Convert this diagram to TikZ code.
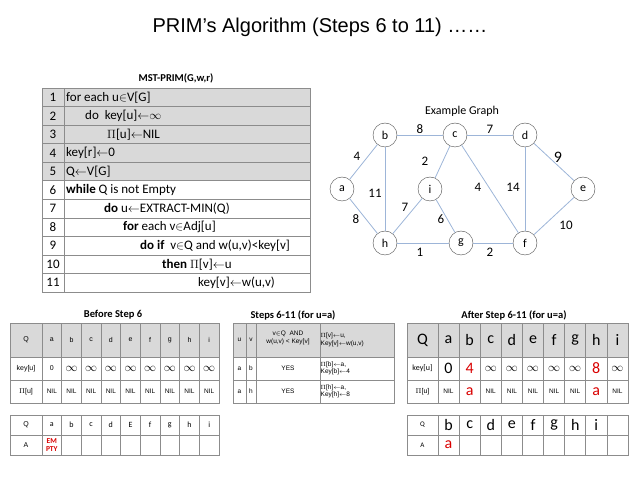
\documentclass[tikz,border=0pt]{standalone}
\usepackage{fontspec}
\setmainfont{Carlito}
\newfontfamily\arial{Liberation Sans}
\definecolor{edgeblue}{HTML}{9DB5D8}
\begin{document}
\begin{tikzpicture}[x=1pt,y=-1pt,
  cell/.style={draw=black!45,line width=0.6pt},
  gcell/.style={draw=black!45,line width=0.6pt,fill=black!15},
  vtx/.style={circle,draw=black!70,fill=white,minimum size=24pt,inner sep=0pt,font=\fontsize{12}{12}\selectfont},
  edge/.style={draw=edgeblue,line width=0.8pt},
  wl/.style={font=\fontsize{13}{13}\selectfont},
  hd/.style={font=\bfseries\fontsize{10.5}{10.5}\selectfont},
  inf/.style={font=\fontsize{12}{12}\selectfont},
  red/.style={text=red!85!black}]
\useasboundingbox (0,0) rectangle (638,478);
\node[font=\arial\fontsize{20}{20}\selectfont] (title) at (320,27) {PRIM’s Algorithm (Steps 6 to 11) ……};
% algorithm
\node[hd] (algh) at (176,78) {MST-PRIM(G,w,r)};
\def\rh{18.55}
\foreach \i/\t/\xx in {1/{for each u\(\in\)V[G]}/66,2/{do\ \ key[u]\(\leftarrow\)\(\infty\)}/85,3/{\(\Pi\)[u]\(\leftarrow\)NIL}/107,4/{key[r]\(\leftarrow\)0}/66,5/{Q\(\leftarrow\)V[G]}/66,6/{\textbf{while} Q is not Empty}/66,7/{\textbf{do} u\(\leftarrow\)EXTRACT-MIN(Q)}/104,8/{\textbf{for} each v\(\in\)Adj[u]}/123,9/{\textbf{do if}\ \ v\(\in\)Q and w(u,v)<key[v]}/140,10/{\textbf{then} \(\Pi\)[v]\(\leftarrow\)u}/162,11/{key[v]\(\leftarrow\)w(u,v)}/198}{
  \pgfmathsetmacro\ya{88+(\i-1)*\rh}
  \pgfmathsetmacro\yb{88+\i*\rh}
  \ifnum\i<6 \def\st{gcell}\else\def\st{cell}\fi
  \draw[\st] (42,\ya) rectangle (64,\yb);
  \draw[\st] (64,\ya) rectangle (310,\yb);
  \node[font=\fontsize{13}{13}\selectfont] (n\i) at (53,{(\ya+\yb)/2}) {\i};
  \node[font=\fontsize{13}{13}\selectfont,anchor=west,inner sep=0pt] (t\i) at (\xx,{(\ya+\yb)/2}) {\t};
}
% graph
\node[font=\fontsize{12}{12}\selectfont] (eg) at (462,111) {Example Graph};
\node[vtx] (a) at (342,189) {a};
\node[vtx] (b) at (385,135) {b};
\node[vtx] (c) at (455,135) {c};
\node[vtx] (d) at (525,135) {d};
\node[vtx] (e) at (583,189) {e};
\node[vtx] (i) at (430,189) {i};
\node[vtx] (h) at (385,243) {h};
\node[vtx] (g) at (461,243) {g};
\node[vtx] (f) at (525,243) {f};
\foreach \u/\v in {a/b,b/c,c/d,d/e,a/h,b/h,c/i,c/f,d/f,e/f,h/i,i/g,h/g,g/f}{\draw[edge] (\u) -- (\v);}
\node[wl] (w1) at (357,156) {4};
\node[wl] (w2) at (420,129) {8};
\node[wl] (w3) at (490,129) {7};
\node[font=\fontsize{16}{16}\selectfont] (w4) at (558,157) {9};
\node[wl] (w5) at (425,161) {2};
\node[wl] (w6) at (375,193) {11};
\node[wl] (w7) at (478,187) {4};
\node[wl] (w8) at (513,187) {14};
\node[wl] (w9) at (405,207) {7};
\node[wl] (w10) at (441,219) {6};
\node[wl] (w11) at (356,219) {8};
\node[wl] (w12) at (420,252) {1};
\node[wl] (w13) at (490,252) {2};
\node[wl] (w14) at (566,225) {10};
% Before step 6
\node[hd] (h1) at (113,315) {Before Step 6};
\def\cw{19.67}
\draw[gcell] (10,323) rectangle (42,357);
\draw[cell] (10,357) rectangle (42,380);
\draw[cell] (10,380) rectangle (42,403);
\node[font=\arial\fontsize{7}{7}\selectfont] (q1) at (26,340) {Q};
\node[font=\arial\fontsize{7}{7}\selectfont] (k1) at (26,368.5) {key[u]};
\node[font=\arial\fontsize{7}{7}\selectfont] (p1) at (26,391.5) {\(\Pi\)[u]};
\draw[cell] (10,415) rectangle (42,435);
\draw[cell] (10,435) rectangle (42,455);
\node[font=\arial\fontsize{7}{7}\selectfont] (q1b) at (26,425) {Q};
\node[font=\arial\fontsize{7}{7}\selectfont] (a1b) at (26,445) {A};
\foreach \j/\l/\m in {1/a/a,2/b/b,3/c/c,4/d/d,5/e/E,6/f/f,7/g/g,8/h/h,9/i/i}{
  \pgfmathsetmacro\xa{42+(\j-1)*\cw}
  \pgfmathsetmacro\xb{42+\j*\cw}
  \pgfmathsetmacro\xm{42+(\j-0.5)*\cw}
  \draw[gcell] (\xa,323) rectangle (\xb,357);
  \draw[cell] (\xa,357) rectangle (\xb,380);
  \draw[cell] (\xa,380) rectangle (\xb,403);
  \draw[cell] (\xa,415) rectangle (\xb,435);
  \draw[cell] (\xa,435) rectangle (\xb,455);
  \node[font=\arial\fontsize{7}{7}\selectfont] (bq\j) at (\xm,340) {\l};
  \ifnum\j=1 \node[font=\arial\fontsize{7}{7}\selectfont] (bk\j) at (\xm,368.5) {0};
  \else \node[inf] (bk\j) at (\xm,368.5) {\(\infty\)};\fi
  \node[font=\arial\fontsize{6.5}{6.5}\selectfont] (bp\j) at (\xm,391.5) {NIL};
  \node[font=\fontsize{8}{8}\selectfont] (bQ\j) at (\xm,425) {\m};
}
\node[font=\bfseries\fontsize{7.5}{8}\selectfont,red,align=center,inner sep=0pt] (empty) at (51.8,445) {EM\\PTY};
% Steps 6-11
\node[hd] (h2) at (293,315) {Steps 6-11 (for u=a)};
\foreach \ya/\yb/\st in {323/357/gcell,357/380/cell,380/403/cell}{
  \draw[\st] (233,\ya) rectangle (246,\yb);
  \draw[\st] (246,\ya) rectangle (256,\yb);
  \draw[\st] (256,\ya) rectangle (320,\yb);
  \draw[\st] (320,\ya) rectangle (394,\yb);
}
\begin{scope}[font=\arial\fontsize{6.5}{7.5}\selectfont]
\node (su) at (239.5,340) {u};
\node (sv) at (251,340) {v};
\node[align=center,inner sep=0pt] (sc) at (288,338) {v\(\in\)Q\ \ AND\\w(u,v) < Key[v]};
\node[align=left,anchor=west,inner sep=0pt] (sr) at (320.5,340) {\(\Pi\)[v]\(\leftarrow\)u,\\Key[v]\(\leftarrow\)w(u,v)};
\node (s1u) at (239.5,368.5) {a};
\node (s1v) at (251,368.5) {b};
\node (s1c) at (288,368.5) {YES};
\node[align=left,anchor=west,inner sep=0pt] (s1r) at (320.5,368.5) {\(\Pi\)[b]\(\leftarrow\)a,\\Key[b]\(\leftarrow\)4};
\node (s2u) at (239.5,391.5) {a};
\node (s2v) at (251,391.5) {h};
\node (s2c) at (288,391.5) {YES};
\node[align=left,anchor=west,inner sep=0pt] (s2r) at (320.5,391.5) {\(\Pi\)[h]\(\leftarrow\)a,\\Key[h]\(\leftarrow\)8};
\end{scope}
% After
\node[hd] (h3) at (514,315) {After Step 6-11 (for u=a)};
\def\cv{21.11}
\draw[gcell] (407,323) rectangle (438,357);
\draw[cell] (407,357) rectangle (438,380);
\draw[cell] (407,380) rectangle (438,403);
\draw[cell] (407,415) rectangle (438,435);
\draw[cell] (407,435) rectangle (438,455);
\node[font=\fontsize{16}{16}\selectfont] (aq) at (422.5,340) {Q};
\node[font=\fontsize{8}{8}\selectfont] (ak) at (422.5,368.5) {key[u]};
\node[font=\arial\fontsize{7}{7}\selectfont] (ap) at (422.5,391.5) {\(\Pi\)[u]};
\node[font=\fontsize{7}{7}\selectfont] (aq2) at (422.5,425) {Q};
\node[font=\fontsize{7}{7}\selectfont] (aa2) at (422.5,445) {A};
\foreach \j/\l/\m in {1/a/b,2/b/c,3/c/d,4/d/e,5/e/f,6/f/g,7/g/h,8/h/i,9/i/{}}{
  \pgfmathsetmacro\xa{438+(\j-1)*\cv}
  \pgfmathsetmacro\xb{438+\j*\cv}
  \pgfmathsetmacro\xm{438+(\j-0.5)*\cv}
  \draw[gcell] (\xa,323) rectangle (\xb,357);
  \draw[cell] (\xa,357) rectangle (\xb,380);
  \draw[cell] (\xa,380) rectangle (\xb,403);
  \draw[cell] (\xa,415) rectangle (\xb,435);
  \draw[cell] (\xa,435) rectangle (\xb,455);
  \node[font=\fontsize{16}{16}\selectfont] (aq\j) at (\xm,340) {\l};
  \node[font=\fontsize{16}{16}\selectfont] (aQ\j) at (\xm,425) {\m};
}
\foreach \j in {3,4,5,6,7,9}{\pgfmathsetmacro\xm{438+(\j-0.5)*\cv}
  \node[inf] (ak\j) at (\xm,368.5) {\(\infty\)};
  \node[font=\arial\fontsize{6.5}{6.5}\selectfont] (ap\j) at (\xm,391.5) {NIL};}
\node[font=\fontsize{16}{16}\selectfont] (ak1) at (448.5,368.5) {0};
\node[font=\arial\fontsize{6.5}{6.5}\selectfont] (ap1) at (448.5,391.5) {NIL};
\node[font=\fontsize{16}{16}\selectfont,red] (ak2) at (469.7,368.5) {4};
\node[font=\fontsize{16}{16}\selectfont,red] (ap2) at (469.7,391.5) {a};
\node[font=\fontsize{16}{16}\selectfont,red] (ak8) at (596.3,368.5) {8};
\node[font=\fontsize{16}{16}\selectfont,red] (ap8) at (596.3,391.5) {a};
\node[font=\fontsize{16}{16}\selectfont,red] (aA1) at (448.5,445) {a};
\end{tikzpicture}
\end{document}
